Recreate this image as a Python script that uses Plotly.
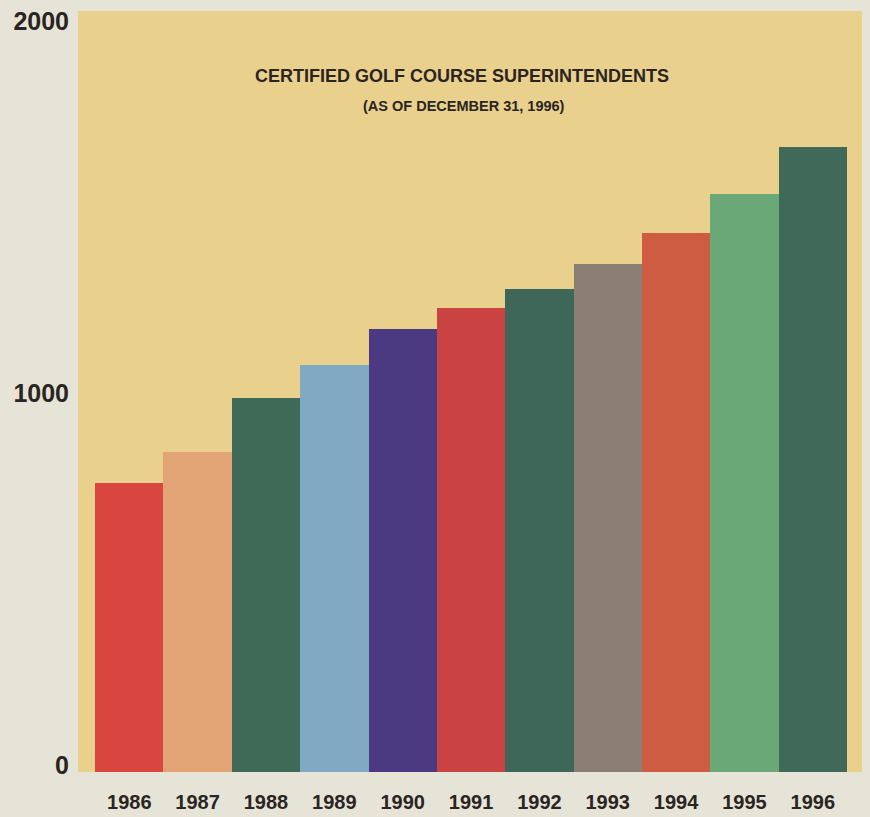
import plotly.graph_objects as go

years = ["1986", "1987", "1988", "1989", "1990", "1991", "1992", "1993", "1994", "1995", "1996"]
counts = [778, 861, 1005, 1096, 1191, 1249, 1298, 1366, 1451, 1554, 1681]
bar_colors = ["#d9463f", "#e2a474", "#3f6a57", "#80a9c3", "#4b3a82", "#cb4242",
              "#3e6659", "#8b7f74", "#cd5c40", "#6aa877", "#40695a"]
y_ticks = [0, 1000, 2000]
title_text = "CERTIFIED GOLF COURSE SUPERINTENDENTS"
subtitle_text = "(AS OF DECEMBER 31, 1996)"

fig = go.Figure(go.Bar(
    x=years, y=counts, marker=dict(color=bar_colors, line=dict(width=0)),
    width=1.0, hoverinfo="x+y",
))

fig.update_layout(
    width=870, height=817,
    margin=dict(l=78, r=8, t=11, b=45, autoexpand=False),
    paper_bgcolor="#e6e4d7",
    plot_bgcolor="#e9d08c",
    showlegend=False,
    bargap=0,
    font=dict(family="Liberation Sans, Arial, sans-serif", color="#2a2522"),
)

fig.update_xaxes(
    type="category",
    range=[-0.75, 10.72],
    automargin=False,
    showgrid=False, zeroline=False, showline=False,
    ticks="", ticklabelstandoff=16,
    tickfont=dict(family="Liberation Sans Narrow, Liberation Sans, Arial", size=20,
                  weight="bold", color="#2a2522"),
)
fig.update_yaxes(
    range=[0, 2047],
    automargin=False,
    tickvals=y_ticks, ticktext=[str(v) for v in y_ticks],
    showgrid=False, zeroline=False, showline=False,
    ticks="", ticklabelstandoff=8, ticklabelshift=-7,
    tickfont=dict(family="Liberation Sans, Arial", size=25, weight="bold", color="#2a2522"),
)

fig.add_annotation(
    xref="paper", yref="paper", x=0.49, y=0.914, text="<b>" + title_text + "</b>",
    showarrow=False, xanchor="center", yanchor="middle",
    font=dict(family="Liberation Sans, Arial", size=18, color="#2a2522"),
)
fig.add_annotation(
    xref="paper", yref="paper", x=0.492, y=0.875, text="<b>" + subtitle_text + "</b>",
    showarrow=False, xanchor="center", yanchor="middle",
    font=dict(family="Liberation Sans, Arial", size=14.5, color="#2a2522"),
)

fig.write_html("out.html", config={"displayModeBar": False},
               post_script="document.body.style.margin='0px';")
